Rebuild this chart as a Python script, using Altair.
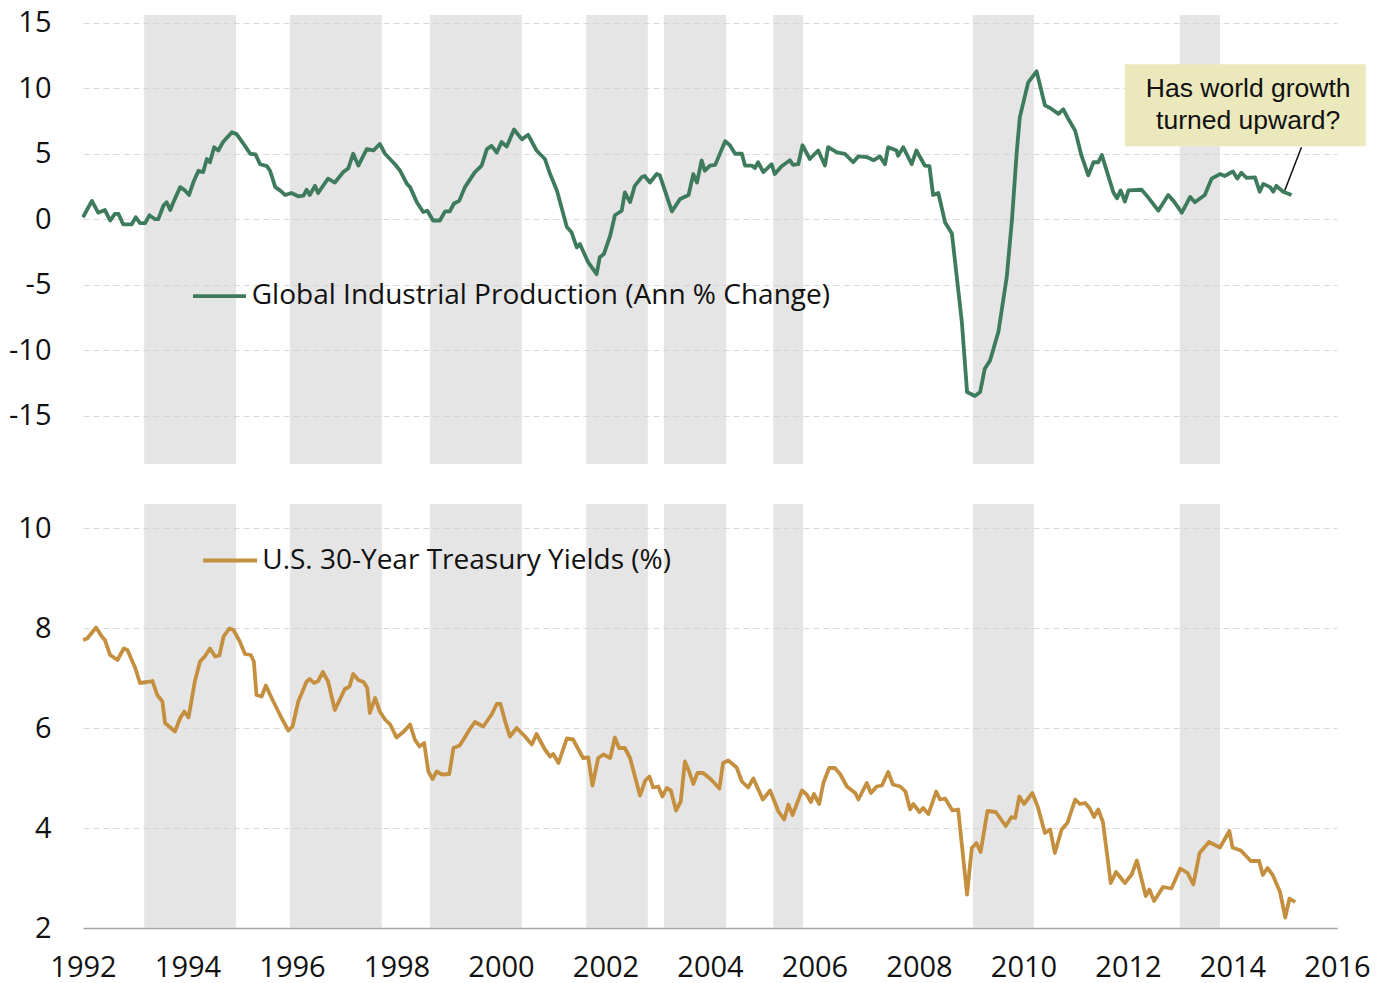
import altair as alt
import pandas as pd

# ---------------- data ----------------
ip_dates = [1992.00, 1992.17, 1992.29, 1992.42, 1992.52, 1992.61, 1992.68, 1992.77, 1992.93, 1993.01,
            1993.09, 1993.19, 1993.27, 1993.38, 1993.44, 1993.54, 1993.60, 1993.67, 1993.73, 1993.86,
            1993.95, 1994.03, 1994.11, 1994.21, 1994.30, 1994.37, 1994.43, 1994.51, 1994.59, 1994.68,
            1994.85, 1994.94, 1995.10, 1995.20, 1995.30, 1995.39, 1995.52, 1995.58, 1995.68, 1995.77,
            1995.87, 1995.99, 1996.12, 1996.22, 1996.28, 1996.34, 1996.44, 1996.50, 1996.69, 1996.82,
            1996.98, 1997.08, 1997.17, 1997.27, 1997.43, 1997.56, 1997.68, 1997.78, 1997.97, 1998.07,
            1998.20, 1998.26, 1998.39, 1998.51, 1998.59, 1998.70, 1998.83, 1998.93, 1999.02, 1999.10,
            1999.20, 1999.31, 1999.50, 1999.63, 1999.73, 1999.82, 1999.92, 2000.01, 2000.11, 2000.25,
            2000.40, 2000.52, 2000.68, 2000.84, 2000.94, 2001.07, 2001.26, 2001.35, 2001.45, 2001.51,
            2001.67, 2001.83, 2001.89, 2001.97, 2002.09, 2002.18, 2002.31, 2002.37, 2002.47, 2002.56,
            2002.69, 2002.75, 2002.85, 2002.98, 2003.04, 2003.27, 2003.43, 2003.59, 2003.68, 2003.75,
            2003.84, 2003.90, 2004.00, 2004.10, 2004.29, 2004.38, 2004.48, 2004.61, 2004.67, 2004.80,
            2004.86, 2004.92, 2005.02, 2005.18, 2005.24, 2005.37, 2005.53, 2005.59, 2005.69, 2005.77,
            2005.91, 2006.07, 2006.20, 2006.26, 2006.43, 2006.58, 2006.74, 2006.84, 2007.00, 2007.13,
            2007.25, 2007.35, 2007.41, 2007.57, 2007.60, 2007.70, 2007.86, 2007.95, 2008.11, 2008.20,
            2008.27, 2008.37, 2008.50, 2008.63, 2008.82, 2008.92, 2009.07, 2009.17, 2009.26, 2009.36,
            2009.52, 2009.68, 2009.78, 2009.87, 2009.93, 2010.09, 2010.25, 2010.41, 2010.51, 2010.67,
            2010.76, 2010.86, 2010.99, 2011.11, 2011.24, 2011.34, 2011.43, 2011.50, 2011.72, 2011.79,
            2011.86, 2011.94, 2012.01, 2012.26, 2012.36, 2012.58, 2012.77, 2012.87, 2013.03, 2013.19,
            2013.28, 2013.47, 2013.60, 2013.76, 2013.85, 2014.01, 2014.09, 2014.17, 2014.27, 2014.43,
            2014.52, 2014.59, 2014.72, 2014.78, 2014.84, 2014.97, 2015.13]
ip_values = [0.15, 1.4, 0.5, 0.7, -0.1, 0.4, 0.4, -0.4, -0.4, 0.15,
             -0.3, -0.3, 0.3, 0.0, 0.0, 1.05, 1.3, 0.7, 1.3, 2.45,
             2.2, 1.85, 2.8, 3.7, 3.6, 4.6, 4.35, 5.5, 5.25, 5.9,
             6.65, 6.5, 5.6, 5.0, 4.95, 4.2, 4.05, 3.7, 2.45, 2.2,
             1.85, 2.0, 1.75, 1.8, 2.25, 1.85, 2.55, 2.0, 3.1, 2.8,
             3.6, 3.9, 5.0, 4.1, 5.35, 5.25, 5.75, 5.0, 4.2, 3.7,
             2.7, 2.45, 1.3, 0.55, 0.65, -0.1, -0.1, 0.6, 0.6, 1.2,
             1.4, 2.45, 3.6, 4.1, 5.35, 5.6, 5.1, 5.9, 5.55, 6.85,
             6.1, 6.45, 5.25, 4.6, 3.45, 2.2, -0.6, -1.0, -2.15, -1.9,
             -3.3, -4.2, -2.9, -2.65, -1.25, 0.3, 0.65, 2.05, 1.3, 2.55,
             3.2, 3.3, 2.8, 3.45, 3.35, 0.6, 1.55, 1.85, 3.45, 2.8,
             4.5, 3.7, 4.1, 4.15, 5.95, 5.65, 5.0, 5.0, 4.1, 4.1,
             3.9, 4.35, 3.6, 4.2, 3.45, 4.05, 4.5, 4.15, 4.2, 5.65,
             4.6, 5.25, 4.1, 5.5, 5.1, 5.0, 4.35, 4.8, 4.75, 4.5,
             4.8, 4.2, 5.5, 5.25, 4.85, 5.5, 4.2, 5.25, 4.1, 4.05,
             1.85, 2.0, -0.25, -1.1, -7.85, -13.2, -13.5, -13.2, -11.4, -10.8,
             -8.6, -4.4, 0.0, 5.1, 7.8, 10.45, 11.3, 8.7, 8.5, 8.05,
             8.4, 7.65, 6.75, 4.85, 3.35, 4.35, 4.35, 4.9, 2.05, 1.6,
             2.2, 1.35, 2.2, 2.25, 1.8, 0.65, 1.85, 1.4, 0.5, 1.7,
             1.3, 1.85, 3.1, 3.45, 3.3, 3.65, 3.1, 3.55, 3.15, 3.2,
             2.1, 2.7, 2.45, 2.1, 2.55, 2.1, 1.85]

ty_dates = [1992.00, 1992.08, 1992.25, 1992.36, 1992.42, 1992.52, 1992.66, 1992.78, 1992.85, 1993.00,
            1993.09, 1993.22, 1993.33, 1993.42, 1993.52, 1993.57, 1993.76, 1993.86, 1993.94, 1994.02,
            1994.14, 1994.24, 1994.33, 1994.43, 1994.53, 1994.61, 1994.69, 1994.80, 1994.88, 1995.00,
            1995.10, 1995.21, 1995.27, 1995.32, 1995.42, 1995.50, 1995.61, 1995.80, 1995.93, 1996.01,
            1996.12, 1996.28, 1996.34, 1996.42, 1996.50, 1996.59, 1996.69, 1996.82, 1996.92, 1997.01,
            1997.10, 1997.17, 1997.27, 1997.37, 1997.44, 1997.49, 1997.59, 1997.68, 1997.78, 1997.88,
            1998.00, 1998.13, 1998.26, 1998.35, 1998.44, 1998.53, 1998.61, 1998.69, 1998.77, 1998.87,
            1999.01, 1999.09, 1999.21, 1999.40, 1999.50, 1999.66, 1999.82, 1999.92, 1999.99, 2000.08,
            2000.17, 2000.30, 2000.46, 2000.59, 2000.68, 2000.84, 2000.94, 2001.00, 2001.10, 2001.26,
            2001.38, 2001.57, 2001.67, 2001.75, 2001.86, 2001.96, 2002.09, 2002.18, 2002.26, 2002.37,
            2002.47, 2002.66, 2002.76, 2002.84, 2002.91, 2003.01, 2003.09, 2003.17, 2003.25, 2003.35,
            2003.44, 2003.52, 2003.60, 2003.68, 2003.76, 2003.87, 2004.01, 2004.18, 2004.25, 2004.35,
            2004.51, 2004.61, 2004.73, 2004.83, 2005.01, 2005.15, 2005.31, 2005.42, 2005.50, 2005.58,
            2005.76, 2005.85, 2005.93, 2005.99, 2006.09, 2006.17, 2006.28, 2006.39, 2006.49, 2006.62,
            2006.78, 2006.84, 2007.00, 2007.08, 2007.19, 2007.29, 2007.41, 2007.50, 2007.64, 2007.74,
            2007.83, 2007.89, 2008.01, 2008.08, 2008.18, 2008.33, 2008.40, 2008.50, 2008.64, 2008.75,
            2008.92, 2009.01, 2009.10, 2009.18, 2009.31, 2009.47, 2009.66, 2009.77, 2009.84, 2009.92,
            2010.01, 2010.17, 2010.28, 2010.41, 2010.51, 2010.60, 2010.73, 2010.84, 2010.99, 2011.08,
            2011.18, 2011.27, 2011.35, 2011.43, 2011.52, 2011.67, 2011.77, 2011.94, 2012.07, 2012.17,
            2012.34, 2012.41, 2012.50, 2012.67, 2012.83, 2013.00, 2013.14, 2013.25, 2013.37, 2013.55,
            2013.76, 2013.94, 2014.00, 2014.16, 2014.35, 2014.51, 2014.58, 2014.67, 2014.77, 2014.91,
            2015.01, 2015.09, 2015.20]
ty_values = [7.76, 7.79, 8.01, 7.83, 7.76, 7.46, 7.36, 7.59, 7.56, 7.20,
             6.90, 6.92, 6.94, 6.66, 6.53, 6.10, 5.93, 6.20, 6.33, 6.21,
             6.93, 7.33, 7.43, 7.59, 7.43, 7.45, 7.83, 7.99, 7.96, 7.73,
             7.48, 7.46, 7.33, 6.66, 6.63, 6.85, 6.60, 6.20, 5.95, 6.03,
             6.53, 6.93, 6.98, 6.90, 6.94, 7.12, 6.93, 6.36, 6.58, 6.78,
             6.83, 7.08, 6.96, 6.92, 6.80, 6.30, 6.60, 6.33, 6.17, 6.07,
             5.81, 5.92, 6.07, 5.77, 5.63, 5.70, 5.13, 4.98, 5.13, 5.07,
             5.08, 5.60, 5.65, 5.97, 6.12, 6.03, 6.27, 6.48, 6.48, 6.13,
             5.83, 6.00, 5.83, 5.67, 5.88, 5.57, 5.43, 5.48, 5.30, 5.79,
             5.77, 5.40, 5.41, 4.85, 5.40, 5.47, 5.40, 5.81, 5.60, 5.60,
             5.40, 4.65, 4.95, 5.03, 4.81, 4.83, 4.63, 4.80, 4.75, 4.35,
             4.53, 5.33, 5.13, 4.88, 5.10, 5.10, 4.98, 4.79, 5.30, 5.35,
             5.21, 4.93, 4.81, 4.99, 4.57, 4.75, 4.33, 4.17, 4.47, 4.26,
             4.75, 4.67, 4.52, 4.68, 4.48, 4.90, 5.20, 5.20, 5.08, 4.83,
             4.70, 4.57, 4.90, 4.70, 4.83, 4.85, 5.12, 4.87, 4.83, 4.73,
             4.37, 4.48, 4.32, 4.40, 4.28, 4.73, 4.57, 4.59, 4.35, 4.37,
             2.67, 3.60, 3.70, 3.52, 4.34, 4.32, 4.04, 4.22, 4.20, 4.63,
             4.48, 4.70, 4.40, 3.90, 3.97, 3.50, 3.97, 4.10, 4.57, 4.48,
             4.50, 4.39, 4.22, 4.37, 4.12, 2.90, 3.12, 2.90, 3.07, 3.35,
             2.64, 2.77, 2.54, 2.82, 2.79, 3.19, 3.10, 2.87, 3.50, 3.72,
             3.61, 3.94, 3.61, 3.55, 3.34, 3.34, 3.06, 3.20, 3.06, 2.72,
             2.21, 2.59, 2.52]

band_start = [1993.17, 1995.96, 1998.64, 2001.63, 2003.12, 2005.21, 2009.03, 2012.99]
band_end = [1994.93, 1997.72, 2000.40, 2002.81, 2004.31, 2005.78, 2010.20, 2013.76]

year_ticks = list(range(1992, 2017, 2))
ip_ticks = [-15, -10, -5, 0, 5, 10, 15]
ty_ticks = [2, 4, 6, 8, 10]

ip_label = "Global Industrial Production (Ann % Change)"
ty_label = "U.S. 30-Year Treasury Yields (%)"
note_lines = ["Has world growth", "turned upward?"]

# ---------------- styling / placement ----------------
GREEN = "#3E7B5D"
GOLD = "#C4903F"
FONT = "Open Sans"
TICK_FS = 29
LAB_FS = 28
W = 1254

x_dom = [1992, 2016]
ip_dom = [-18.7, 15.6]
ty_dom = [2, 10.48]

ip_legend = {"x1": 1994.105, "x2": 1995.12, "y": -5.88, "tx": 1995.23}
ty_legend = {"x1": 1994.30, "x2": 1995.33, "y": 9.35, "tx": 1995.43}
note_box = {"x1": 2011.94, "x2": 2016.55, "y1": 5.57, "y2": 11.83}
note_text = {"x": 2014.30, "y": [9.92, 7.48]}
note_leader = {"x1": 2015.32, "y1": 5.50, "x2": 2015.00, "y2": 2.19}

ip = pd.DataFrame({"t": ip_dates, "v": ip_values})
ty = pd.DataFrame({"t": ty_dates, "v": ty_values})
bands = pd.DataFrame({"s": band_start, "e": band_end})

xscale = alt.Scale(domain=x_dom, nice=False, zero=False)


def y_axis(vals):
    return alt.Axis(values=vals, title=None, domain=False, ticks=False, labelPadding=32,
                    labelExpr="'' + datum.value",
                    labelFontSize=TICK_FS, labelFont=FONT, labelColor="#111111",
                    grid=True, gridColor="#D9D9D9", gridDash=[6, 4], gridWidth=1,
                    minExtent=75, maxExtent=75)


def panel(df, color, ydom, yticks, leg, label, show_x):
    ysc = alt.Scale(domain=ydom, nice=False, zero=False)
    if show_x:
        xax = alt.Axis(values=year_ticks, format="d", title=None, grid=False, ticks=False,
                       domain=True, domainColor="#A6A6A6", domainWidth=1.5,
                       labelFontSize=TICK_FS, labelFont=FONT, labelColor="#111111",
                       labelPadding=25, labelFlush=False)
    else:
        xax = None
    xenc = lambda f: alt.X(f, type="quantitative", scale=xscale, axis=xax)

    band_layer = alt.Chart(bands).mark_rect(color="#CFCFCF", opacity=0.55).encode(
        x=xenc("s"), x2="e")
    line = alt.Chart(df).mark_line(color=color, strokeWidth=3.8, strokeJoin="round").encode(
        x=xenc("t"), y=alt.Y("v:Q", scale=ysc, axis=y_axis(yticks)))
    legdf = pd.DataFrame({"a": [leg["x1"]], "b": [leg["x2"]], "y": [leg["y"]],
                          "tx": [leg["tx"]], "txt": [label]})
    leg_line = alt.Chart(legdf).mark_rule(color=color, strokeWidth=3.8).encode(
        x=xenc("a"), x2="b", y=alt.Y("y:Q", scale=ysc))
    leg_text = alt.Chart(legdf).mark_text(align="left", baseline="middle", font=FONT,
                                          fontSize=LAB_FS, color="#111111").encode(
        x=xenc("tx"), y=alt.Y("y:Q", scale=ysc), text="txt:N")
    layers = [band_layer, line, leg_line, leg_text]
    return layers, ysc, xenc


top_layers, ysc_top, xenc_top = panel(ip, GREEN, ip_dom, ip_ticks, ip_legend, ip_label, False)

boxdf = pd.DataFrame({"x1": [note_box["x1"]], "x2": [note_box["x2"]],
                      "y1": [note_box["y1"]], "y2": [note_box["y2"]]})
note_rect = alt.Chart(boxdf).mark_rect(color="#EBE8BC").encode(
    x=xenc_top("x1"), x2="x2", y=alt.Y("y1:Q", scale=ysc_top), y2="y2")
notedf = pd.DataFrame({"x": [note_text["x"]] * 2, "y": note_text["y"], "txt": note_lines})
note_txt = alt.Chart(notedf).mark_text(align="center", baseline="middle", font="Liberation Sans",
                                       fontSize=26.5, color="#111111").encode(
    x=xenc_top("x"), y=alt.Y("y:Q", scale=ysc_top), text="txt:N")
leaddf = pd.DataFrame({"x1": [note_leader["x1"]], "x2": [note_leader["x2"]],
                       "y1": [note_leader["y1"]], "y2": [note_leader["y2"]]})
leader = alt.Chart(leaddf).mark_rule(color="#111111", strokeWidth=1.5).encode(
    x=xenc_top("x1"), x2="x2", y=alt.Y("y1:Q", scale=ysc_top), y2="y2")

top = alt.layer(*top_layers, note_rect, note_txt, leader).properties(width=W, height=449)

bot_layers, _, _ = panel(ty, GOLD, ty_dom, ty_ticks, ty_legend, ty_label, True)
bottom = alt.layer(*bot_layers).properties(width=W, height=424)

chart = alt.vconcat(top, bottom, spacing=40).properties(
    padding={"left": 0, "top": 0, "right": 0, "bottom": 0}
).configure(background="white").configure_view(stroke=None)

chart.save("out.html", embed_options={"renderer": "svg", "actions": False})
